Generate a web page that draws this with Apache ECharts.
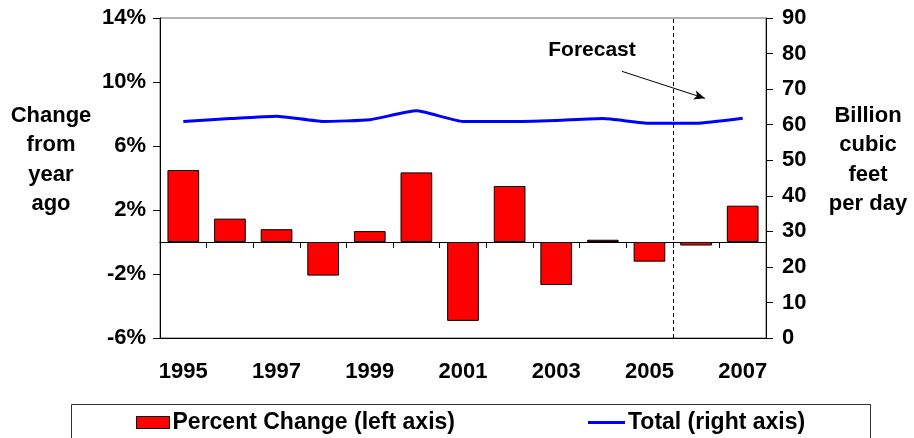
<!DOCTYPE html>
<html>
<head>
<meta charset="utf-8">
<script src="https://cdn.jsdelivr.net/npm/echarts@6/dist/echarts.min.js"></script>
<style>html,body{margin:0;padding:0;background:#fff;}#c{width:914px;height:438px;}</style>
</head>
<body>
<div id="c"></div>
<script>
var years = ['1995','1996','1997','1998','1999','2000','2001','2002','2003','2004','2005','2006','2007'];
var percentChange = [4.5, 1.46, 0.8, -2.1, 0.68, 4.35, -4.93, 3.5, -2.69, 0.14, -1.23, -0.22, 2.27];
var total = [60.9, 61.7, 62.4, 60.9, 61.4, 63.9, 60.9, 60.9, 61.2, 61.7, 60.4, 60.4, 61.8];
var forecastStart = 11; // boundary between 2005 and 2006 (band index)
var arrowFrom = [9.91, 75.0];
var arrowTo = [11.69, 67.4];

var FONT = 'Arial, "Liberation Sans", sans-serif';
var chart = echarts.init(document.getElementById('c'), null, {renderer: 'canvas'});
var option = {
  animation: false,
  backgroundColor: '#fff',
  grid: {left: 160, right: 148, top: 18, bottom: 100, show: true, borderColor: '#666', borderWidth: 1, backgroundColor: 'transparent'},
  xAxis: [
    {type: 'category', data: years, position: 'bottom',
     axisLine: {show: true, onZero: true, lineStyle: {color: '#000', width: 1}},
     axisTick: {show: true, length: 6, lineStyle: {color: '#000'}},
     axisLabel: {show: false}, splitLine: {show: false}},
    {type: 'category', data: years, position: 'bottom',
     axisLine: {show: true, onZero: false, lineStyle: {color: '#000', width: 1}},
     axisTick: {show: false},
     axisLabel: {show: true, interval: 1, margin: 23, color: '#000', fontWeight: 'bold', fontSize: 22, fontFamily: FONT},
     splitLine: {show: false}},
    {type: 'value', min: 0, max: years.length, show: false}
  ],
  yAxis: [
    {type: 'value', min: -6, max: 14, interval: 4, position: 'left',
     axisLine: {show: true, lineStyle: {color: '#000', width: 1}},
     axisTick: {show: true, length: 7, lineStyle: {color: '#000'}},
     axisLabel: {formatter: '{value}%', margin: 14, color: '#000', fontWeight: 'bold', fontSize: 22, fontFamily: FONT},
     splitLine: {show: false}},
    {type: 'value', min: 0, max: 90, interval: 10, position: 'right',
     axisLine: {show: true, lineStyle: {color: '#000', width: 1}},
     axisTick: {show: true, length: 7, lineStyle: {color: '#000'}},
     axisLabel: {margin: 16, color: '#000', fontWeight: 'bold', fontSize: 22, fontFamily: FONT},
     splitLine: {show: false}}
  ],
  legend: [
    {data: [{name: 'Percent Change (left axis)', icon: 'rect'}], left: 136, top: 411, padding: 0,
     itemWidth: 33, itemHeight: 12, itemStyle: {borderColor: '#000', borderWidth: 1},
     textStyle: {color: '#000', fontWeight: 'bold', fontSize: 23, fontFamily: FONT, padding: [0, 0, 0, -2]}, selectedMode: false},
    {data: [{name: 'Total (right axis)', icon: 'rect'}], left: 588, top: 411, padding: 0,
     itemWidth: 37, itemHeight: 3, itemStyle: {color: '#0000ff', borderWidth: 0},
     textStyle: {color: '#000', fontWeight: 'bold', fontSize: 23, fontFamily: FONT, padding: [0, 0, 0, -2]}, selectedMode: false}
  ],
  graphic: [
    {type: 'rect', left: 69, top: 402, shape: {width: 799, height: 60}, style: {fill: 'none', stroke: '#333', lineWidth: 1}, silent: true},
    {type: 'text', x: 51, y: 160, style: {text: 'Change\nfrom\nyear\nago', align: 'center', verticalAlign: 'middle', lineHeight: 29.5, fill: '#000', font: 'bold 22px ' + FONT}},
    {type: 'text', x: 868, y: 160, style: {text: 'Billion\ncubic\nfeet\nper day', align: 'center', verticalAlign: 'middle', lineHeight: 29.5, fill: '#000', font: 'bold 22px ' + FONT}},
    {type: 'text', x: 592, y: 50, style: {text: 'Forecast', align: 'center', verticalAlign: 'middle', fill: '#000', font: 'bold 21px ' + FONT}}
  ],
  series: [
    {name: 'Percent Change (left axis)', type: 'bar', xAxisIndex: 0, yAxisIndex: 0, data: percentChange,
     barCategoryGap: '32%', itemStyle: {color: '#ff0000', borderColor: '#000', borderWidth: 1}},
    {name: 'Total (right axis)', type: 'line', xAxisIndex: 0, yAxisIndex: 1, data: total,
     symbol: 'none', smooth: 0.15, lineStyle: {color: '#0000ff', width: 3}, itemStyle: {color: '#0000ff'}, z: 5},
    {name: 'forecast', type: 'line', xAxisIndex: 2, yAxisIndex: 1, data: [], silent: true,
     markLine: {silent: true, symbol: ['none', 'none'], label: {show: false},
       lineStyle: {color: '#000', type: [4, 3], width: 1},
       data: [{xAxis: forecastStart}]}},
    {name: 'arrow', type: 'line', xAxisIndex: 2, yAxisIndex: 1, data: [], silent: true,
     markLine: {silent: true, symbol: ['none', 'arrow'], symbolSize: [7, 11], label: {show: false},
       lineStyle: {color: '#000', type: 'solid', width: 1},
       data: [[{coord: arrowFrom}, {coord: arrowTo}]]}}
  ]
};
chart.setOption(option);
</script>
</body>
</html>
